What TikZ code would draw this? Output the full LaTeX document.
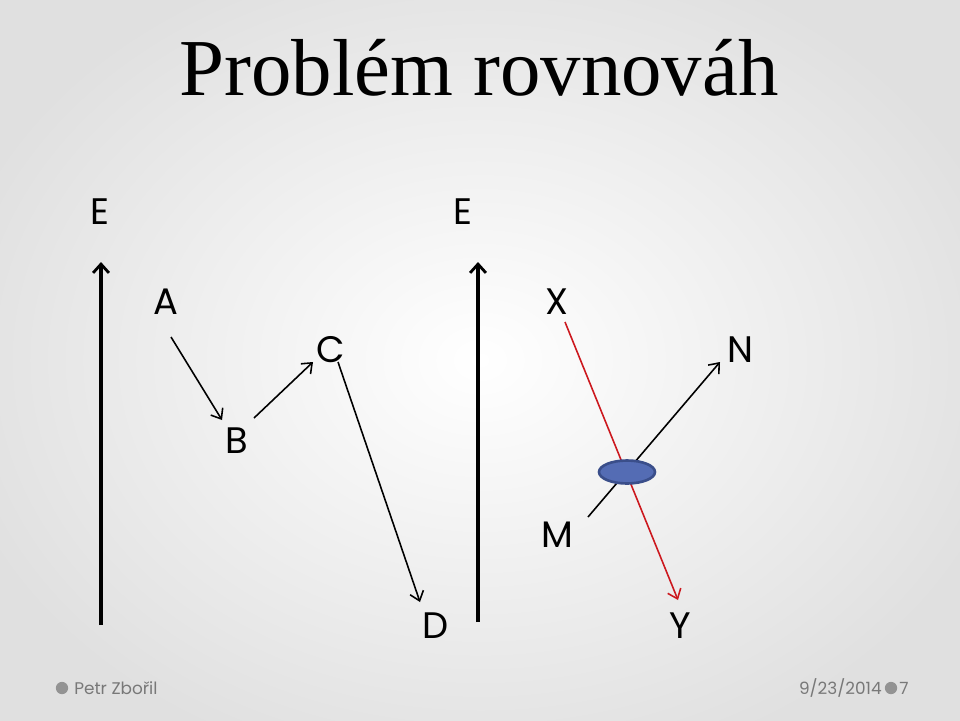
\documentclass[tikz,border=0pt]{standalone}
\usepackage{fontspec}
\setmainfont{Liberation Serif}
\newfontfamily\gothic{Poppins}
\usetikzlibrary{arrows.meta,shapes.geometric}
\definecolor{ellfill}{RGB}{84,108,180}
\definecolor{elldraw}{RGB}{58,78,138}
\definecolor{footgray}{RGB}{120,120,120}
\definecolor{redline}{RGB}{204,24,30}
\tikzset{
  lbl/.style={font=\gothic\fontsize{21}{24}\selectfont, text=black, inner sep=0pt},
  conn/.style={line width=0.9pt, -{Straight Barb[length=5pt,width=8pt,line width=0.9pt]}},
  axis/.style={line width=2.2pt, -{Straight Barb[length=5pt,width=9pt,line width=1.6pt]}},
  foot/.style={font=\gothic\fontsize{9.6}{11}\selectfont, text=footgray, inner sep=0pt},
  bullet/.style={circle, fill=footgray!80, inner sep=0pt, minimum size=7pt}
}
\begin{document}
\begin{tikzpicture}[x=0.02cm,y=-0.02cm]
\useasboundingbox (0,0) rectangle (960,720);
\shade[inner color=white, outer color=black!12] (-60,-60) rectangle (1020,780);
% title
\node[font=\fontsize{46}{50}\selectfont, inner sep=0pt] (title) at (479,68) {Problém rovnováh};
% labels
\node[lbl] (E1) at (100,212) {E};
\node[lbl] (E2) at (463,212) {E};
\node[lbl] (A) at (166,302) {A};
\node[lbl] (C) at (331,350) {C};
\node[lbl] (X) at (557,302) {X};
\node[lbl] (N) at (740,350) {N};
\node[lbl] (B) at (237,441) {B};
\node[lbl] (M) at (557,535) {M};
\node[lbl] (D) at (436,626) {D};
\node[lbl] (Y) at (680,626) {Y};
% axes
\coordinate (a1s) at (101,625); \coordinate (a1e) at (101,262);
\coordinate (a2s) at (478,622); \coordinate (a2e) at (478,262);
\draw[axis] (a1s) -- (a1e);
\draw[axis] (a2s) -- (a2e);
% path arrows
\coordinate (ab1) at (171,337); \coordinate (ab2) at (222,420);
\coordinate (bc1) at (254,418); \coordinate (bc2) at (313,362);
\coordinate (cd1) at (338,362); \coordinate (cd2) at (420,602);
\draw[conn] (ab1) -- (ab2);
\draw[conn] (bc1) -- (bc2);
\draw[conn] (cd1) -- (cd2);
% crossing arrows
\coordinate (xy1) at (565,322); \coordinate (xy2) at (678,600);
\coordinate (mn1) at (588,517); \coordinate (mn2) at (720,362);
\draw[conn, draw=redline] (xy1) -- (xy2);
\draw[conn] (mn1) -- (mn2);
\node[ellipse, draw=elldraw, line width=1.5pt, fill=ellfill, minimum width=1.12cm, minimum height=0.46cm, inner sep=0pt] (ell) at (627,472) {};
% footer
\node[bullet] (b1) at (62,688) {};
\node[foot, anchor=west] (author) at (74,688) {Petr Zbořil};
\node[foot, anchor=east] (date) at (882,688) {9/23/2014};
\node[bullet] (b2) at (891,688) {};
\node[foot, anchor=west] (page) at (899,688) {7};
\end{tikzpicture}
\end{document}
